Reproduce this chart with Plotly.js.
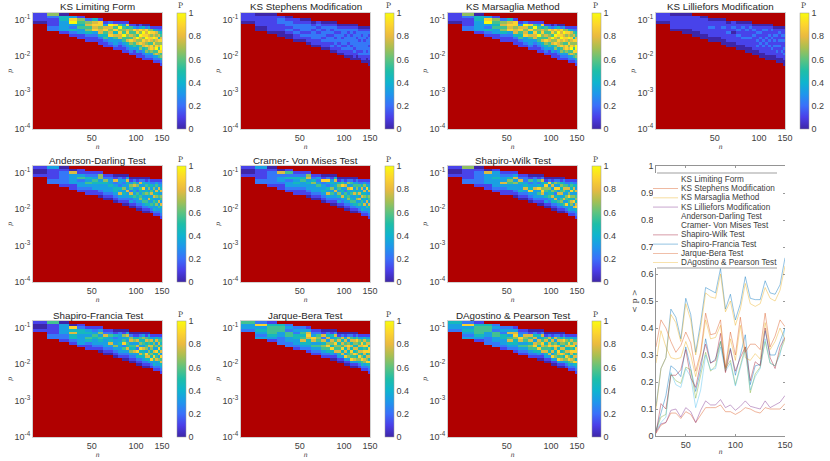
<!DOCTYPE html>
<html>
<head>
<meta charset="utf-8">
<script src="https://cdn.plot.ly/plotly-3.0.1.min.js"></script>
<style>html,body{margin:0;padding:0;background:#fff}#c{width:830px;height:461px}</style>
</head>
<body>
<div id="c"></div>
<script>
// ---- DATA ----
const testNames = ["KS Limiting Form","KS Stephens Modification","KS Marsaglia Method","KS Lilliefors Modification","Anderson-Darling Test","Cramer- Von Mises Test","Shapiro-Wilk Test","Shapiro-Francia Test","Jarque-Bera Test","DAgostino & Pearson Test"];
const nValues = [20,25,30,35,40,45,50,55,60,65,70,75,80,85,90,95,100,105,110,115,120,125,130,135,140,145,150];

// Heat cells, read column by column (n bin), from the top row downward.
// '.' = outside the test's valid range (dark red); digit d = P value of d/9.
const ksLimiting = ["1110","6211122","04433331",".38932421",".165453311","..267564211","..478783211","..1886774211","...1378545211","...2976783321","...18584753321","...15968773211","...135659553211","...184786574321","....156575864321","....138567755311","....0278596743311","....1386976856211","....04798687743211","....02878976856321","....03697885775321",".....1686875886321",".....14879686756321",".....13768768957321",".....12574867586521",".....124578699856421"];
const ksStephens = ["1110","0111100","01111110",".12211100",".012212100","..112212110","..012221210","..0122212110","...0121222110","...1212122110","...01212212110","...01222122110","...012121221210","...012212122110","....012122212110","....012221221210","....0122122212110","....0121222122110","....01221222121100","....01212222212110","....01222122221100",".....0122212221210",".....01212222212110",".....01222122222110",".....01221222212100",".....012122212221100"];
const ksMarsaglia = ["1110","6211122","04433331",".38932421",".165453311","..267564211","..478783211","..1886774211","...1378545211","...2976783321","...18584753321","...15968773211","...135659553211","...184786574321","....156575864321","....138567755311","....0278596743311","....1386976856211","....04798687743211","....02878976856321","....03697885775321",".....1686875886321",".....14879686756321",".....13768768957321",".....12574867586521",".....124578699856421"];
const ksLilliefors = ["1110","0111110","01111100",".11111100",".011111100","..011211100","..011111100","..0112111100","...0111211100","...1121011100","...01121211100","...01211121100","...011211211100","...012111211100","....012121111100","....011211212100","....0112121211100","....0121112121100","....01211212111100","....01112121211100","....01211211121100",".....0112121211100",".....01121112121100",".....01211212111100",".....01121211121100",".....011212112121100"];
const andersonDarling = ["1001","3111122","01222221",".07333311",".113523321","..124353211","..123543311","..1663433210","...1264333210","...1233433210","...01723443210","...02332437321","...013236343210","...037433733210","....013652742310","....025734353210","....0136325433210","....0273543563210","....02438353453210","....01353463354210","....02346354734310",".....1243573435321",".....12363473543421",".....13537463463321",".....12374353735321",".....123473653743321"];
const cramerVonMises = ["1001","3111122","01222221",".07233211",".152423321","..124343211","..124533211","..1673433210","...1246333210","...1323533210","...01823343210","...02832437321","...013436353210","...047343733210","....014653642310","....025834373210","....0137325433210","....0263743563210","....02538353453210","....01353473354210","....02356354634310",".....1253473735321",".....12473473543421",".....13637464373321",".....12483353735321",".....123473653743321"];
const shapiroWilk = ["1001","6111122","01222221",".07333311",".133433321","..123373211","..124653311","..1373633210","...1274334210","...1223473210","...01523483210","...02333733321","...015248353210","...027436873210","....014865342310","....028364453210","....0147364734210","....0263852474210","....02538374353210","....01464573564210","....02357634735310",".....1257436538321",".....12373684543421",".....13548364763321",".....12475363837321",".....124373564784321"];
const shapiroFrancia = ["1001","5111122","03333221",".08474421",".124433331","..134354211","..123543321","..1363543210","...1274333210","...1253473210","...01423363210","...02333433321","...016358253210","...037435473210","....026735463210","....014635473210","....0147372834210","....0254638474210","....03645374543210","....01574563874210","....03465736574310",".....1374764648321",".....13465374853421",".....14736384573321",".....13574847364321",".....135464738574321"];
const jarqueBera = ["5332","2834323","14555431",".45533222",".232553322","..232443321","..235457432","..1378744321","...1238735321","...1256535321","...01727465321","...02473685421","...014376484310","...027458657210","....015746574310","....027475847310","....0147574738310","....0273687456310","....02574748658310","....01476474857310","....02586475746310",".....1365747586421",".....13587474685421",".....14758587476321",".....13578484768421",".....135748857484321"];
const dagostinoPearson = ["4332","2834323","14555431",".45533222",".232553322","..232443321","..237357432","..1378644321","...1238735321","...1276535321","...01757465321","...02473785421","...014376484310","...027458757210","....015746574310","....027478547310","....0147574738310","....0273687456310","....02574748758310","....01476474857310","....02586475746310",".....1365747586421",".....13587474685421",".....14758587476321",".....13578484768421",".....135748857484321"];

// Mean P per n (last panel)
const meanKsLimiting = [.02,.09,.15,.26,.245,.22,.33,.25,.165,.245,.36,.27,.285,.35,.25,.325,.225,.30,.375,.19,.26,.265,.39,.30,.30,.35,.40];
const meanKsStephens = [.01,.04,.05,.085,.085,.065,.09,.08,.05,.08,.105,.105,.105,.115,.09,.09,.08,.09,.105,.10,.09,.085,.105,.10,.10,.10,.12];
const meanKsMarsaglia = [.27,.39,.33,.29,.285,.29,.35,.30,.22,.30,.43,.36,.365,.41,.24,.36,.28,.41,.29,.28,.305,.285,.42,.32,.35,.40,.36];
const meanKsLilliefors = [.015,.045,.05,.095,.10,.07,.105,.09,.05,.095,.13,.115,.115,.135,.105,.115,.095,.11,.13,.11,.105,.10,.13,.105,.115,.125,.15];
const meanAnderson = [.02,.07,.08,.23,.205,.195,.255,.245,.14,.22,.31,.24,.26,.35,.25,.28,.19,.26,.33,.16,.23,.255,.35,.27,.26,.31,.36];
const meanCramer = [.02,.05,.07,.235,.19,.18,.25,.22,.105,.17,.30,.245,.25,.33,.24,.27,.185,.25,.32,.17,.22,.25,.36,.27,.26,.30,.40];
const meanShapiroWilk = [.01,.12,.10,.225,.225,.245,.32,.215,.18,.27,.34,.27,.28,.38,.235,.32,.24,.29,.33,.205,.275,.26,.40,.29,.25,.33,.365];
const meanShapiroFrancia = [.11,.25,.29,.47,.44,.36,.51,.45,.31,.42,.55,.54,.53,.62,.47,.525,.43,.49,.59,.51,.505,.505,.575,.53,.525,.56,.66];
const meanJarqueBera = [.33,.43,.40,.35,.31,.335,.385,.345,.24,.31,.455,.375,.38,.43,.255,.385,.30,.44,.31,.34,.34,.32,.455,.33,.37,.43,.405];
const meanDagostino = [.10,.25,.29,.45,.42,.35,.49,.43,.30,.40,.53,.515,.51,.60,.46,.50,.41,.47,.565,.49,.48,.49,.55,.51,.50,.54,.63];

const heatPanels = [ksLimiting,ksStephens,ksMarsaglia,ksLilliefors,andersonDarling,cramerVonMises,shapiroWilk,shapiroFrancia,jarqueBera,dagostinoPearson];
const meanSeries = [meanKsLimiting,meanKsStephens,meanKsMarsaglia,meanKsLilliefors,meanAnderson,meanCramer,meanShapiroWilk,meanShapiroFrancia,meanJarqueBera,meanDagostino];
const lineColors = ["#0072BD","#D95319","#EDB120","#7E2F8E","#77AC30","#4DBEEE","#A2142F","#0072BD","#D95319","#EDB120"];
const legendKeyShown = [false,true,true,true,false,false,true,true,true,true];
const pTicks = [1e-4,1e-3,1e-2,1e-1];
const pTickText = ["10<sup>-4</sup>","10<sup>-3</sup>","10<sup>-2</sup>","10<sup>-1</sup>"];
const nTicks = [50,100,150];
const meanTicks = [0,.1,.2,.3,.4,.5,.6,.7,.8,.9,1];
const meanTickText = ["0","0.1","0.2","0.3","0.4","0.5","0.6","0.7","0.8","0.9","1"];

// ---- LAYOUT CONSTANTS (pixels) ----
const W=830,H=461, panelW=129, panelH=116, cbGap=144, cbW=9;
const lefts=[33,241,448,656], tops=[13,166,321];
const rowCount=44, pTop=0.155, pBottom=1e-4;
const parula=[[0,"#3e26a8"],[.1,"#4a3ee8"],[.2,"#3b6ffa"],[.3,"#1f96ec"],[.4,"#0fb4cf"],[.5,"#1ebea8"],[.6,"#5ec37f"],[.7,"#a8bf52"],[.8,"#eaba40"],[.9,"#fdd52e"],[1,"#f9fb0e"]];
const TXT="#404040", FONT="Liberation Sans, Arial, sans-serif";

const yEdges=[]; for(let i=0;i<=rowCount;i++) yEdges.push(pTop*Math.pow(pBottom/pTop,i/rowCount));

function toGrid(cols){
  const z=[],mask=[];
  for(let r=0;r<rowCount;r++){
    const zr=[],mr=[];
    for(let c=0;c<cols.length;c++){
      const ch=cols[c][r];
      if(ch===undefined||ch==="."){zr.push(null);mr.push(1);}
      else{zr.push(+ch/9);mr.push(null);}
    }
    z.push(zr);mask.push(mr);
  }
  return {z,mask};
}
const px=v=>v/W, py=v=>1-v/H;
const data=[],layout={width:W,height:H,margin:{l:0,r:0,t:0,b:0},paper_bgcolor:"#fff",plot_bgcolor:"#fff",showlegend:false,font:{family:FONT,color:TXT,size:9},shapes:[],annotations:[]};
const slots=[];
for(let r=0;r<3;r++)for(let c=0;c<4;c++){ if(r===1&&c===3)continue; if(r===2&&c===3)continue; slots.push([lefts[c],tops[r]]); }

heatPanels.forEach((cols,i)=>{
  const [l,t]=slots[i], idx=i+1, xn="x"+idx, yn="y"+idx, g=toGrid(cols);
  data.push({type:"heatmap",x:nValues,y:yEdges,z:g.mask,xaxis:xn,yaxis:yn,showscale:false,zmin:0,zmax:1,colorscale:[[0,"#b00000"],[1,"#b00000"]],hoverinfo:"skip"});
  data.push({type:"heatmap",name:testNames[i],x:nValues,y:yEdges,z:g.z,xaxis:xn,yaxis:yn,zmin:0,zmax:1,colorscale:parula,
    colorbar:{x:px(l+cbGap),xanchor:"left",xpad:0,ypad:0,y:py(t+panelH/2),yanchor:"middle",len:panelH/H,lenmode:"fraction",thickness:cbW,thicknessmode:"pixels",outlinewidth:.5,outlinecolor:"#999",ticks:"",tickvals:[0,.2,.4,.6,.8,1],ticktext:["0","0.2","0.4","0.6","0.8","1"],tickfont:{size:9,color:TXT,family:FONT}}});
  layout["xaxis"+idx]={domain:[px(l),px(l+panelW)],anchor:yn,type:"log",range:[Math.log10(20),Math.log10(150)],tickmode:"array",tickvals:nTicks,ticktext:nTicks.map(String),ticks:"",tickfont:{size:9,color:TXT},showgrid:false,zeroline:false,showline:true,mirror:true,linecolor:"rgba(190,190,190,.7)",linewidth:1,title:{text:"<i>n</i>",font:{size:6.5,family:"DejaVu Serif",color:TXT},standoff:0}};
  layout["yaxis"+idx]={domain:[py(t+panelH),py(t)],anchor:xn,type:"log",range:[Math.log10(pBottom),Math.log10(pTop)],tickmode:"array",tickvals:pTicks,ticktext:pTickText,ticks:"",tickfont:{size:9,color:TXT},showgrid:false,zeroline:false,showline:true,mirror:true,linecolor:"rgba(190,190,190,.7)",linewidth:1,title:{text:"<i>p</i>",font:{size:6.5,family:"DejaVu Serif",color:TXT},standoff:1}};
  layout.annotations.push({xref:"paper",yref:"paper",x:px(l+panelW/2),y:py(t-6),xanchor:"center",yanchor:"middle",showarrow:false,text:testNames[i],font:{size:9.8,color:"#262626",family:FONT}});
  layout.annotations.push({xref:"paper",yref:"paper",x:px(l+cbGap+3),y:py(t-7),xanchor:"center",yanchor:"middle",showarrow:false,text:"P",font:{size:7.5,color:TXT,family:"DejaVu Serif"}});
});

// last panel
const lineL=656,lineR=785,lineT=166,lineB=436;
meanSeries.forEach((s,i)=>{
  data.push({type:"scatter",mode:"lines",name:testNames[i],x:nValues,y:s,xaxis:"x11",yaxis:i===9?"y12":"y11",line:{color:lineColors[i],width:.7},opacity:.62,hoverinfo:"skip"});
});
layout.xaxis11={domain:[px(lineL),px(lineR)],anchor:"y11",range:[20,150],tickmode:"array",tickvals:nTicks,ticktext:nTicks.map(String),ticks:"inside",ticklen:2,tickwidth:.6,tickcolor:"#555",tickfont:{size:9,color:TXT},showgrid:false,zeroline:false,showline:true,mirror:"ticks",linecolor:"#666",linewidth:.7,title:{text:"<i>n</i>",font:{size:6.5,family:"DejaVu Serif",color:TXT},standoff:0}};
layout.yaxis11={domain:[py(lineB),py(lineT)],anchor:"x11",range:[0,1],tickmode:"array",tickvals:meanTicks,ticktext:meanTickText,ticks:"inside",ticklen:2,tickwidth:.6,tickcolor:"#555",tickfont:{size:9,color:TXT},showgrid:false,zeroline:false,showline:true,linecolor:"#666",linewidth:.7,title:{text:"< p >",font:{size:8,family:"DejaVu Serif",color:TXT},standoff:2}};
layout.yaxis12={domain:[py(lineB),py(lineT)],anchor:"x11",overlaying:"y11",side:"right",range:[0,1],tickmode:"array",tickvals:meanTicks,showticklabels:false,ticks:"inside",ticklen:2,tickwidth:.6,tickcolor:"#555",showgrid:false,zeroline:false,showline:false};

// legend, drawn over the curves
const legL=653,legR=777,legT=173,legB=268,legY0=179.3,legStep=9.26;
layout.shapes.push({type:"rect",xref:"paper",yref:"paper",x0:px(legL),x1:px(legR),y0:py(legB),y1:py(legT),fillcolor:"#fff",line:{width:0},layer:"above"});
[legT,legB].forEach(y=>layout.shapes.push({type:"line",xref:"paper",yref:"paper",x0:px(657),x1:px(legR),y0:py(y),y1:py(y),line:{color:"#777",width:.7},layer:"above"}));
testNames.forEach((nm,i)=>{
  const y=legY0+i*legStep;
  if(legendKeyShown[i]) layout.shapes.push({type:"line",xref:"paper",yref:"paper",x0:px(653),x1:px(678),y0:py(y),y1:py(y),line:{color:lineColors[i],width:.7},opacity:.6,layer:"above"});
  layout.annotations.push({xref:"paper",yref:"paper",x:px(678.5),y:py(y),xanchor:"left",yanchor:"middle",showarrow:false,text:nm,font:{size:8.2,color:TXT,family:FONT}});
});

Plotly.newPlot("c",data,layout,{displayModeBar:false,staticPlot:true});
</script>
</body>
</html>
